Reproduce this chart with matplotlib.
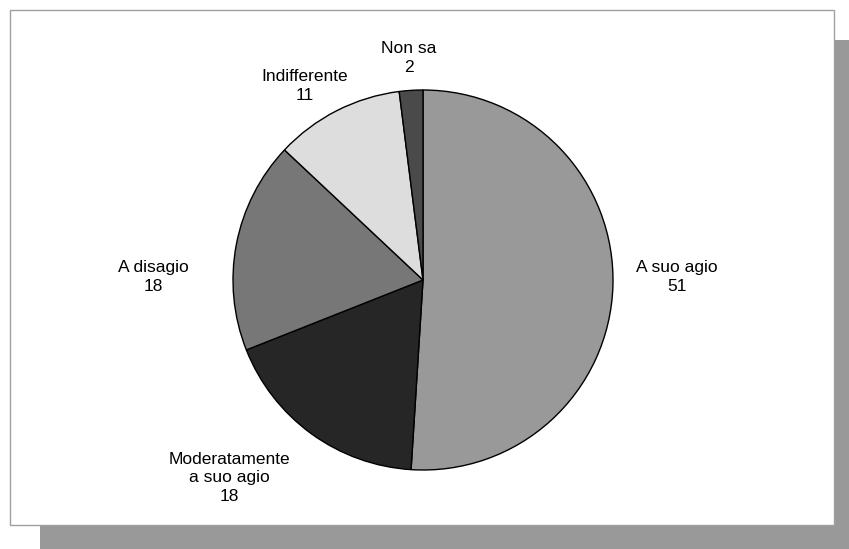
import matplotlib.pyplot as plt
from matplotlib.patches import Rectangle

# Risposte (valori percentuali)
categorie = ["A suo agio", "Moderatamente\na suo agio", "A disagio", "Indifferente", "Non sa"]
valori = [51, 18, 18, 11, 2]
colori = ["#999999", "#262626", "#777777", "#dddddd", "#4a4a4a"]

# posizione del centro di ogni etichetta (in raggi del grafico)
pos_etichette = [(1.337, 0.016), (-1.021, -1.042), (-1.421, 0.016), (-0.621, 1.021), (-0.074, 1.168)]

W, H = 849, 549
cx, cy, r = 423, 280, 190

plt.rcParams['font.family'] = ['Liberation Sans', 'DejaVu Sans']

fig = plt.figure(figsize=(W / 100, H / 100), dpi=100)
fig.patch.set_facecolor("white")

# ombra e riquadro del grafico (sotto gli assi)
fig.patches.append(Rectangle((40 / W, 0), 1 - 40 / W, 1 - 40 / H, transform=fig.transFigure,
                             facecolor="#999999", edgecolor="none", zorder=-2))
fig.patches.append(Rectangle((9.5 / W, 1 - 524.5 / H), 824 / W, 515 / H, transform=fig.transFigure,
                             facecolor="white", edgecolor="#a0a0a0", linewidth=1, zorder=-1))

ax = fig.add_axes([0, 0, 1, 1])
ax.axis("off")

ax.pie(valori, colors=colori, startangle=90, counterclock=False, radius=1,
       wedgeprops=dict(edgecolor="black", linewidth=1))
ax.set_xlim(-cx / r, (W - cx) / r)
ax.set_ylim((cy - H) / r, cy / r)
ax.set_aspect("auto")

for nome, v, (x, y) in zip(categorie, valori, pos_etichette):
    ax.text(x, y, f"{nome}\n{v}", ha="center", va="center", multialignment="center",
            fontsize=12.5, linespacing=1.27)

fig.savefig("out.png", dpi=100)
